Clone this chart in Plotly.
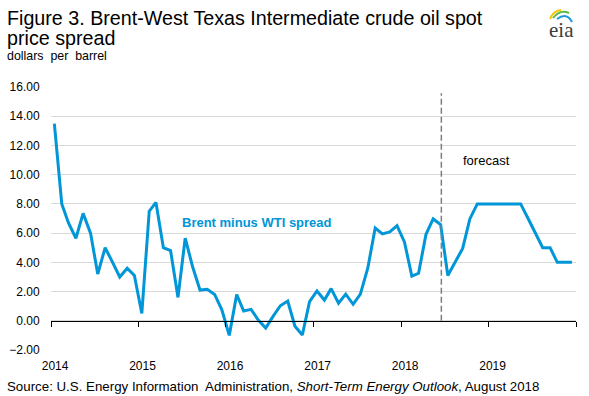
import plotly.graph_objects as go
import pandas as pd

# ---- data (dollars per barrel, monthly Jan 2014 - Dec 2019) ----
months = pd.date_range("2014-01-01", periods=72, freq="MS") + pd.Timedelta(days=14)
spread_2014 = [13.5, 8.0, 6.7, 5.65, 7.35, 6.0, 3.2, 5.0, 4.0, 3.0, 3.6, 3.1]
spread_2015 = [0.5, 7.5, 8.1, 5.0, 4.8, 1.6, 5.65, 3.7, 2.1, 2.15, 1.8, 0.75]
spread_2016 = [-1.0, 1.8, 0.67, 0.78, 0.05, -0.5, 0.28, 1.03, 1.35, -0.37, -0.97, 1.31]
spread_2017 = [2.04, 1.42, 2.2, 1.2, 1.82, 1.13, 1.83, 3.6, 6.35, 5.95, 6.08, 6.51]
spread_2018 = [5.4, 3.05, 3.25, 5.92, 6.97, 6.58, 3.1, 4.0, 4.95, 6.97, 8.0, 8.0]
spread_2019 = [8.0, 8.0, 8.0, 8.0, 8.0, 7.0, 6.0, 5.0, 5.0, 4.0, 4.0, 4.0]
spread = spread_2014 + spread_2015 + spread_2016 + spread_2017 + spread_2018 + spread_2019

year_labels = ["2014", "2015", "2016", "2017", "2018", "2019"]
year_ticks = [f"{y}-01-01" for y in range(2014, 2021)]
label_pos = [f"{y}-01-18" for y in year_labels]
forecast_start = "2018-06-18"

# ---- layout geometry ----
W, H = 589, 396
L, R, T, B = 51, 13, 87, 46
PW, PH = W - L - R, H - T - B


def px(x):
    return (x - L) / PW


def py(y):
    return (H - B - y) / PH


FONT = "Liberation Sans, Arial, sans-serif"
BLUE = "#0096d7"

fig = go.Figure()
fig.add_trace(go.Scatter(
    x=months, y=spread, mode="lines",
    line=dict(color=BLUE, width=3), xaxis="x", yaxis="y",
    hoverinfo="skip", showlegend=False,
))
# invisible trace to activate the label axis
fig.add_trace(go.Scatter(
    x=[months[0]], y=[None], mode="lines", xaxis="x2", yaxis="y",
    showlegend=False, hoverinfo="skip",
))

fig.update_layout(
    template="none",
    width=W, height=H,
    margin=dict(l=L, r=R, t=T, b=B, pad=0, autoexpand=False),
    paper_bgcolor="white", plot_bgcolor="white",
    font=dict(family=FONT, size=12, color="#000"),
    showlegend=False,
    xaxis=dict(
        type="date", range=["2014-01-01", "2020-01-01"],
        tickvals=year_ticks, showticklabels=False,
        ticks="outside", ticklen=5, tickcolor="#000", tickwidth=1,
        showline=True, linecolor="#000", linewidth=1,
        showgrid=False, zeroline=False, automargin=False,
        anchor="free", position=2 / 18,
    ),
    xaxis2=dict(
        type="date", range=["2014-01-01", "2020-01-01"],
        overlaying="x", anchor="y", side="bottom",
        tickvals=label_pos, ticktext=year_labels,
        ticks="outside", ticklen=5, tickcolor="rgba(0,0,0,0)",
        showline=False, showgrid=False, zeroline=False, automargin=False,
        tickfont=dict(size=12, color="#000"),
    ),
    yaxis=dict(
        range=[-2, 16], dtick=2, tick0=0, tickformat=".2f",
        showgrid=True, gridcolor="#d9d9d9", gridwidth=1,
        zeroline=False, showline=False, automargin=False,
        ticks="outside", ticklen=8, tickcolor="rgba(0,0,0,0)",
        tickfont=dict(size=12, color="#000"),
    ),
)

# forecast divider
fig.add_shape(type="line", xref="x", yref="y",
              x0=forecast_start, x1=forecast_start, y0=0, y1=15.58,
              line=dict(color="#7f7f7f", width=1.5, dash="6px,3px"))

fig.add_annotation(x="2018-09-07", y=10.95, xref="x", yref="y",
                   text="forecast", showarrow=False,
                   xanchor="left", yanchor="middle",
                   font=dict(size=13, color="#000"))
fig.add_annotation(x="2015-06-24", y=6.71, xref="x", yref="y",
                   text="<b>Brent minus WTI spread</b>", showarrow=False,
                   xanchor="left", yanchor="middle",
                   font=dict(size=13, color=BLUE))

# title, units, source
fig.add_annotation(x=px(5), y=py(18), xref="paper", yref="paper",
                   text="Figure 3. Brent-West Texas Intermediate crude oil spot",
                   showarrow=False, xanchor="left", yanchor="middle", align="left",
                   font=dict(size=19.7, color="#000"))
fig.add_annotation(x=px(5), y=py(38), xref="paper", yref="paper",
                   text="price spread",
                   showarrow=False, xanchor="left", yanchor="middle", align="left",
                   font=dict(size=19.7, color="#000"))
fig.add_annotation(x=px(5), y=py(56), xref="paper", yref="paper",
                   text="dollars\u00a0 per\u00a0 barrel", showarrow=False,
                   xanchor="left", yanchor="middle",
                   font=dict(size=12.4, color="#000"))
fig.add_annotation(x=px(5), y=py(386), xref="paper", yref="paper",
                   text="Source: U.S. Energy Information\u00a0 Administration, <i>Short-Term Energy Outlook</i>, August 2018",
                   showarrow=False, xanchor="left", yanchor="middle",
                   font=dict(size=13.3, color="#000"))

# eia logo
fig.add_annotation(x=px(561), y=py(30), xref="paper", yref="paper",
                   text="eia", showarrow=False, xanchor="center", yanchor="middle",
                   font=dict(family="Liberation Serif, DejaVu Serif, serif", size=21, color="#3c3c3c"))
for pts, col in [([(550, 19), (553, 11), (561, 10)], "#f2c500"),
                 ([(553, 18), (560, 9), (569, 13)], "#5db848"),
                 ([(557, 19), (567, 12), (572, 22)], "#1f9ad7")]:
    (x0, y0), (cx, cy), (x1, y1) = pts
    path = f"M {px(x0)},{py(y0)} Q {px(cx)},{py(cy)} {px(x1)},{py(y1)}"
    fig.add_shape(type="path", xref="paper", yref="paper", path=path,
                  line=dict(color=col, width=2))

fig.write_html(
    "out.html",
    config={"displayModeBar": False},
    post_script="document.body.style.margin='0';document.body.style.overflow='hidden';",
)
